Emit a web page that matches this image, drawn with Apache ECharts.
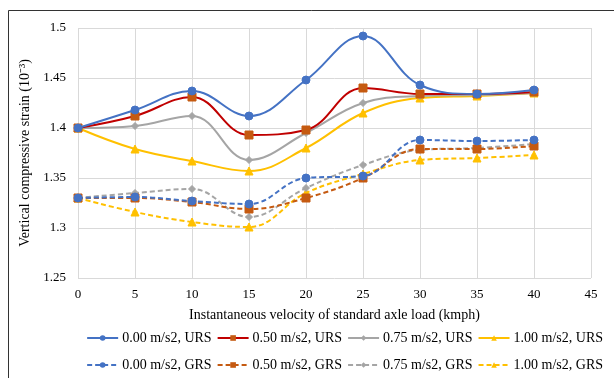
<!DOCTYPE html>
<html><head><meta charset="utf-8">
<script src="https://cdn.jsdelivr.net/npm/echarts@6/dist/echarts.min.js"></script>
<style>html,body{margin:0;padding:0;background:#fff}#c{width:614px;height:378px}</style>
</head><body><div id="c"></div>
<script>
const velocities = [0, 5, 10, 15, 20, 25, 30, 35, 40];
const xTicks = [0, 5, 10, 15, 20, 25, 30, 35, 40, 45];
const yTicks = [1.25, 1.3, 1.35, 1.4, 1.45, 1.5];
const seriesNames = ['0.00 m/s2, URS','0.50 m/s2, URS','0.75 m/s2, URS','1.00 m/s2, URS',
                     '0.00 m/s2, GRS','0.50 m/s2, GRS','0.75 m/s2, GRS','1.00 m/s2, GRS'];
const urs000 = [1.400, 1.418, 1.437, 1.412, 1.448, 1.492, 1.443, 1.434, 1.438];
const urs050 = [1.400, 1.412, 1.431, 1.393, 1.398, 1.440, 1.434, 1.434, 1.436];
const urs075 = [1.400, 1.402, 1.412, 1.368, 1.395, 1.425, 1.432, 1.433, 1.435];
const urs100 = [1.400, 1.379, 1.367, 1.357, 1.380, 1.415, 1.430, 1.432, 1.435];
const grs000 = [1.330, 1.331, 1.327, 1.324, 1.350, 1.352, 1.388, 1.387, 1.388];
const grs050 = [1.330, 1.330, 1.326, 1.319, 1.330, 1.350, 1.379, 1.379, 1.382];
const grs075 = [1.330, 1.335, 1.339, 1.311, 1.340, 1.363, 1.378, 1.380, 1.384];
const grs100 = [1.330, 1.316, 1.306, 1.301, 1.335, 1.354, 1.368, 1.370, 1.373];

const values = [urs000, urs050, urs075, urs100, grs000, grs050, grs075, grs100];
const lineColors = ['#4472C4','#C00000','#A5A5A5','#FFC000','#4472C4','#C55A11','#A5A5A5','#FFC000'];
const markColors = ['#4472C4','#C55A11','#A5A5A5','#FFC000','#4472C4','#C55A11','#A5A5A5','#FFC000'];
const symbols = ['circle','rect','diamond','triangle','circle','rect','diamond','triangle'];
const symSizes = [8, 8, 7, 8, 8, 8, 7, 8];
const font = '"Liberation Serif", "Times New Roman", serif';

const series = values.map((vals, i) => ({
  name: seriesNames[i],
  type: 'line',
  smooth: 0.4,
  data: vals.map((v, j) => [velocities[j], v]),
  symbol: symbols[i],
  symbolSize: symSizes[i],
  showAllSymbol: true,
  lineStyle: { color: lineColors[i], width: 2, type: i >= 4 ? [5, 3] : 'solid' },
  itemStyle: { color: markColors[i], borderColor: markColors[i] },
  z: 10 - i
}));

const legendBase = { padding: 0, right: 11, itemWidth: 31, itemHeight: 7, itemGap: 5,
  textStyle: { fontFamily: font, fontSize: 14, color: '#000', padding: [0, 0, 0, -1] } };

const chart = echarts.init(document.getElementById('c'), null, { renderer: 'canvas' });
chart.setOption({
  animation: false,
  backgroundColor: '#fff',
  graphic: [{ type: 'rect', shape: { x: 8.5, y: 10.5, width: 700, height: 500 },
              style: { fill: 'none', stroke: '#333', lineWidth: 1 }, silent: true }],
  grid: { left: 78, right: 23, top: 28, bottom: 100 },
  xAxis: {
    type: 'value', min: xTicks[0], max: xTicks[xTicks.length - 1], interval: 5,
    axisLine: { show: false }, axisTick: { show: false },
    splitLine: { show: true, lineStyle: { color: '#D9D9D9', width: 1 } },
    axisLabel: { fontFamily: font, fontSize: 13, color: '#000', margin: 10 },
    name: 'Instantaneous velocity of standard axle load (kmph)',
    nameLocation: 'middle', nameGap: 30,
    nameTextStyle: { fontFamily: font, fontSize: 14, color: '#000' }
  },
  yAxis: {
    type: 'value', min: yTicks[0], max: yTicks[yTicks.length - 1], interval: 0.05,
    axisLine: { show: false }, axisTick: { show: false },
    splitLine: { show: true, lineStyle: { color: '#D9D9D9', width: 1 } },
    axisLabel: { fontFamily: font, fontSize: 13, color: '#000', margin: 12,
                 formatter: v => String(+v.toFixed(2)) },
    name: 'Vertical compressive strain (10\u207B\u00B3)',
    nameLocation: 'middle', nameGap: 34, nameRotate: 90,
    nameTextStyle: { fontFamily: font, fontSize: 14, color: '#000' }
  },
  legend: [
    Object.assign({ data: seriesNames.slice(0, 4), top: 331 }, legendBase),
    Object.assign({ data: seriesNames.slice(4), top: 358 }, legendBase)
  ],
  series: series
});
</script></body></html>
